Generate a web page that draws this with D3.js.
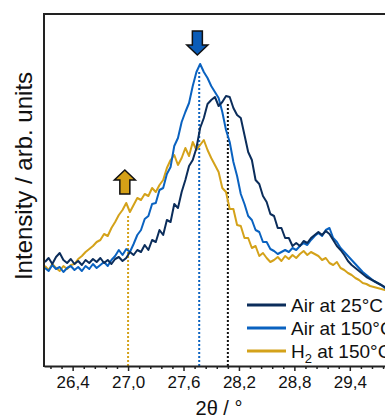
<!DOCTYPE html>
<html>
<head>
<meta charset="utf-8">
<script src="https://cdn.jsdelivr.net/npm/d3@7"></script>
<style>
  body { margin: 0; background: #fff; }
  svg { display: block; font-family: Arial, "Liberation Sans", sans-serif; }
</style>
</head>
<body>
<div id="chart"></div>
<script>
// 2θ sampling positions (degrees)
const theta = [
  26.10, 26.14, 26.18, 26.22, 26.26, 26.30, 26.34, 26.38, 26.42, 26.46,
  26.50, 26.54, 26.58, 26.62, 26.66, 26.70, 26.74, 26.78, 26.82, 26.86,
  26.90, 26.94, 26.98, 27.02, 27.06, 27.10, 27.14, 27.18, 27.22, 27.26,
  27.30, 27.34, 27.38, 27.42, 27.46, 27.50, 27.54, 27.58, 27.62, 27.66,
  27.70, 27.74, 27.78, 27.82, 27.86, 27.90, 27.94, 27.98, 28.02, 28.06,
  28.10, 28.14, 28.18, 28.22, 28.26, 28.30, 28.34, 28.38, 28.42, 28.46,
  28.50, 28.54, 28.58, 28.62, 28.66, 28.70, 28.74, 28.78, 28.82, 28.86,
  28.90, 28.94, 28.98, 29.02, 29.06, 29.10, 29.14, 29.18, 29.22, 29.26,
  29.30, 29.34, 29.38, 29.42, 29.46, 29.50, 29.54, 29.58, 29.62, 29.66,
  29.70, 29.74, 29.78, 29.82
];

// intensities, arb. units
const air25 = [
  104, 108, 102, 109, 113, 106, 103, 107, 102, 105,
  101, 106, 103, 107, 104, 108, 103, 106, 102, 107,
  109, 105, 108, 114, 111, 116, 114, 121, 116, 126,
  124, 136, 131, 146, 144, 162, 158, 174, 186, 200,
  206, 218, 238, 248, 262, 266, 269, 260, 264, 270,
  269, 258, 251, 248, 231, 214, 206, 186, 182, 170,
  164, 152, 150, 138, 138, 128, 128, 120, 123, 120,
  125, 123, 128, 131, 134, 131, 135, 132, 126, 120,
  116, 111, 105, 101, 98, 95, 92, 89, 87, 85,
  83, 81, 79, 77
];

const air150 = [
  98, 95, 101, 97, 99, 94, 98, 100, 96, 99,
  95, 100, 97, 102, 98, 101, 104, 100, 106, 110,
  116, 111, 117, 114, 122, 131, 136, 147, 150, 162,
  163, 176, 178, 192, 199, 220, 228, 244, 254, 263,
  280, 294, 302, 294, 288, 280, 274, 268, 254, 236,
  224, 204, 190, 172, 162, 150, 146, 136, 134, 124,
  124, 117, 115, 112, 114, 116, 114, 118, 116, 120,
  123, 121, 126, 130, 133, 130, 136, 138, 128, 124,
  118, 114, 110, 106, 102, 98, 94, 91, 88, 85,
  83, 81, 78, 76
];

const h2150 = [
  100, 96, 102, 98, 95, 100, 97, 101, 102, 107,
  110, 114, 117, 120, 124, 126, 132, 130, 138, 144,
  151, 156, 163, 154, 161, 168, 166, 172, 170, 178,
  174, 181, 186, 198, 206, 211, 201, 208, 218, 210,
  224, 216, 221, 226, 216, 208, 201, 194, 178, 174,
  157, 157, 141, 140, 128, 128, 118, 120, 110, 113,
  108, 104, 106, 109, 105, 110, 107, 111, 108, 112,
  115, 111, 114, 112, 110, 106, 108, 103, 101, 104,
  98, 96, 93, 91, 88, 86, 83, 82, 80, 79,
  78, 77, 76, 75
];

const seriesNames = ["Air at 25°C", "Air at 150°C", "H2 at 150°C"];
const seriesColors = ["#0b2d5b", "#0a62c0", "#d4a21a"];

// dotted peak markers: position and top intensity
const markerTheta = [27.00, 27.77, 28.08];
const markerTop = [152, 294, 262];
const markerColors = ["#d4a21a", "#0a62c0", "#111111"];

// shift arrows: position, tip intensity, direction
const arrowTheta = [26.965, 27.75];
const arrowTip = [196, 311];
const arrowDir = ["up", "down"];
const arrowColors = ["#d4a017", "#0a5cb8"];

const majorTicks = [26.4, 27.0, 27.6, 28.2, 28.8, 29.4];

const width = 385, height = 419;
const margin = { top: 14, left: 44, bottom: 53, right: -11 };

const svg = d3.select("#chart").append("svg")
  .attr("width", width)
  .attr("height", height);

const x = d3.scaleLinear()
  .domain([26.09, 29.90])
  .range([margin.left, width - margin.right]);

const y = d3.scaleLinear()
  .domain([0, 352])
  .range([height - margin.bottom, margin.top]);

svg.append("defs").append("clipPath")
  .attr("id", "plot-clip")
  .append("rect")
  .attr("x", margin.left)
  .attr("y", margin.top)
  .attr("width", x.range()[1] - margin.left)
  .attr("height", y.range()[0] - margin.top);

const plot = svg.append("g").attr("clip-path", "url(#plot-clip)");

// dotted lines under the curves
markerTheta.forEach((t, i) => {
  plot.append("line")
    .attr("x1", x(t)).attr("x2", x(t))
    .attr("y1", y(0)).attr("y2", y(markerTop[i]))
    .attr("stroke", markerColors[i])
    .attr("stroke-width", 2)
    .attr("stroke-dasharray", "2,2");
});

const line = d3.line()
  .x((d, i) => x(theta[i]))
  .y(d => y(d));

// draw H2 first, then air 150, then air 25 on top (like the reference)
[h2150, air150, air25].forEach((data, k) => {
  const idx = 2 - k;
  plot.append("path")
    .datum(data)
    .attr("fill", "none")
    .attr("stroke", seriesColors[idx])
    .attr("stroke-width", 2)
    .attr("stroke-linejoin", "round")
    .attr("d", line);
});

// arrows
arrowTheta.forEach((t, i) => {
  const s = arrowDir[i] === "down" ? 1 : -1;
  const pts = [[0, 0], [-10.5, -10], [-5, -10], [-5, -24], [5, -24], [5, -10], [10.5, -10]]
    .map(p => [p[0], p[1] * s]);
  svg.append("path")
    .attr("transform", `translate(${x(t)},${y(arrowTip[i])})`)
    .attr("d", "M" + pts.map(p => p.join(",")).join("L") + "Z")
    .attr("fill", arrowColors[i])
    .attr("stroke", "#111")
    .attr("stroke-width", 1.5)
    .attr("stroke-linejoin", "miter");
});

// axes frame
const frame = svg.append("g")
  .attr("fill", "none")
  .attr("stroke", "#222")
  .attr("stroke-width", 2);
frame.append("line")
  .attr("x1", margin.left).attr("x2", margin.left)
  .attr("y1", margin.top - 1).attr("y2", y(0) + 1);
frame.append("line")
  .attr("x1", margin.left).attr("x2", width)
  .attr("y1", margin.top).attr("y2", margin.top);

// minor ticks every 0.12
const minorTicks = d3.range(26.16, 29.9, 0.12).filter(v => !majorTicks.some(m => Math.abs(m - v) < 1e-6));

const minorAxis = d3.axisBottom(x)
  .tickValues(minorTicks)
  .tickSize(3)
  .tickFormat("");
svg.append("g")
  .attr("transform", `translate(0,${y(0)})`)
  .call(minorAxis)
  .call(g => g.select(".domain").remove())
  .call(g => g.selectAll("line").attr("stroke", "#222").attr("stroke-width", 1.5));

const xAxis = d3.axisBottom(x)
  .tickValues(majorTicks)
  .tickSize(5)
  .tickSizeOuter(0)
  .tickPadding(5)
  .tickFormat(d => d.toFixed(1).replace(".", ","));
svg.append("g")
  .attr("transform", `translate(0,${y(0)})`)
  .call(xAxis)
  .call(g => g.select(".domain").attr("stroke", "#222").attr("stroke-width", 2))
  .call(g => g.selectAll("line").attr("stroke", "#222").attr("stroke-width", 1.5))
  .call(g => g.selectAll("text")
    .attr("fill", "#111")
    .style("font-size", "17px")
    .style("font-family", "Arial, 'Liberation Sans', sans-serif"));

// axis titles
svg.append("text")
  .attr("x", 219)
  .attr("y", 415)
  .attr("text-anchor", "middle")
  .attr("fill", "#111")
  .style("font-size", "20px")
  .text("2θ / °");

svg.append("text")
  .attr("transform", "translate(32,176) rotate(-90)")
  .attr("text-anchor", "middle")
  .attr("fill", "#111")
  .style("font-size", "24px")
  .text("Intensity / arb. units");

// legend
const legend = svg.append("g").attr("transform", "translate(247,305)");
seriesNames.forEach((name, i) => {
  const row = legend.append("g").attr("transform", `translate(0,${i * 23})`);
  row.append("line")
    .attr("x1", 0).attr("x2", 39)
    .attr("stroke", seriesColors[i])
    .attr("stroke-width", 3);
  const t = row.append("text")
    .attr("x", 44)
    .attr("y", 7)
    .attr("fill", "#111")
    .style("font-size", "19px");
  if (name.startsWith("H2")) {
    t.append("tspan").text("H");
    t.append("tspan").attr("dy", 5).style("font-size", "13px").text("2");
    t.append("tspan").attr("dy", -5).text(name.slice(2));
  } else {
    t.text(name);
  }
});
</script>
</body>
</html>
